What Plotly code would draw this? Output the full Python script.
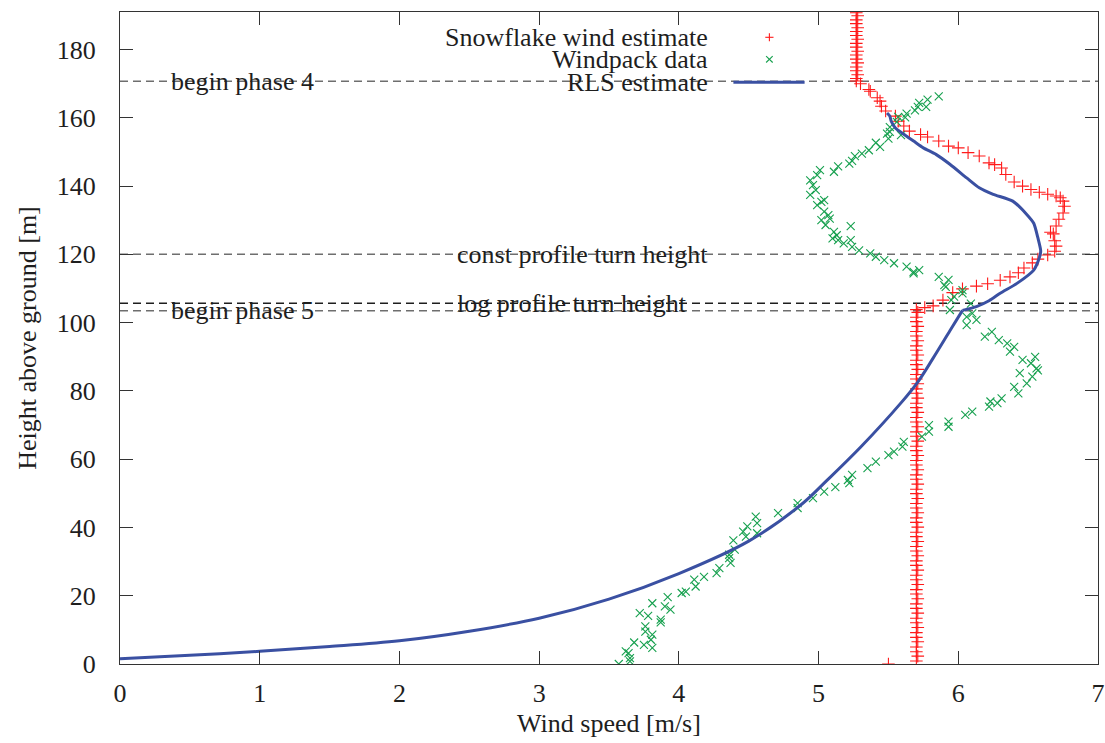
import plotly.graph_objects as go

# ---------------- data ----------------
# Snowflake wind estimate (red +)
snow_x = [5.50,
          5.70, 5.71, 5.70, 5.70, 5.71, 5.70, 5.70, 5.71, 5.70, 5.70, 5.71, 5.70, 5.70, 5.71, 5.70,
          5.70, 5.71, 5.70, 5.70, 5.71, 5.70, 5.70, 5.71, 5.70, 5.70, 5.71, 5.70, 5.70, 5.71, 5.70,
          5.70, 5.71, 5.70, 5.70, 5.71, 5.70, 5.70, 5.71, 5.70, 5.70, 5.71, 5.70, 5.70, 5.71, 5.70,
          5.70, 5.71, 5.70, 5.70, 5.71, 5.70, 5.70, 5.71, 5.70, 5.70, 5.71, 5.70, 5.70, 5.71, 5.70,
          5.70, 5.71, 5.70, 5.70, 5.71, 5.70, 5.70, 5.71, 5.70, 5.70, 5.71, 5.70, 5.70, 5.71, 5.70,
          5.76, 5.82, 5.89, 5.96, 6.03, 6.13, 6.21, 6.30, 6.37, 6.43, 6.47, 6.53, 6.57, 6.64, 6.69,
          6.70, 6.69, 6.68, 6.66, 6.70, 6.72, 6.75, 6.76, 6.75, 6.73, 6.70, 6.64, 6.58, 6.52, 6.46,
          6.40, 6.34, 6.31, 6.26, 6.22, 6.15, 6.07, 6.00, 5.93, 5.86, 5.78, 5.73, 5.65, 5.61, 5.57,
          5.55, 5.48, 5.45, 5.44, 5.42, 5.37, 5.36, 5.30, 5.27,
          5.27, 5.28, 5.27, 5.27, 5.28, 5.27, 5.27, 5.28, 5.27, 5.27, 5.28, 5.27, 5.27, 5.28, 5.27,
          5.27, 5.28, 5.27]
snow_y = [0.0,
          0.9, 2.3, 3.6, 5.0, 6.5, 7.8, 9.2, 10.7, 12.1, 13.4, 14.9, 16.3, 17.6, 19.1, 20.5,
          21.8, 23.3, 24.7, 26.0, 27.5, 28.9, 30.2, 31.7, 33.1, 34.4, 35.9, 37.3, 38.6, 40.1, 41.5,
          42.8, 44.3, 45.7, 47.0, 48.5, 49.9, 51.2, 52.7, 54.1, 55.4, 56.9, 58.3, 59.6, 61.1, 62.5,
          63.8, 65.3, 66.7, 68.0, 69.5, 70.9, 72.2, 73.7, 75.1, 76.4, 77.9, 79.3, 80.6, 82.1, 83.5,
          84.8, 86.3, 87.7, 89.0, 90.5, 91.9, 93.2, 94.7, 96.1, 97.4, 98.9, 100.3, 101.6, 103.0, 103.8,
          104.4, 104.9, 106.6, 108.8, 109.9, 110.7, 111.4, 112.4, 113.4, 114.6, 116.0, 117.5, 118.6, 119.8, 120.9,
          122.4, 124.0, 126.0, 126.5, 128.3, 130.3, 132.1, 134.1, 135.6, 136.6, 137.1, 137.6, 138.2, 139.0, 140.0,
          141.2, 143.4, 145.3, 146.3, 146.8, 148.8, 149.8, 151.2, 151.7, 153.2, 154.4, 155.1, 156.1, 157.6, 159.0,
          160.5, 162.0, 163.4, 164.9, 165.9, 167.8, 168.3, 170.0, 170.8,
          171.5, 172.6, 173.8, 174.9, 176.1, 177.2, 178.4, 179.5, 180.7, 181.8, 183.0, 184.1, 185.3, 186.4, 187.6,
          188.7, 189.9, 190.8]

# Windpack data (green x)
wind_x = [3.57, 3.65, 3.65, 3.64, 3.62, 3.81, 3.75, 3.68, 3.80, 3.81, 3.76, 3.76, 3.87, 3.87, 3.78,
          3.72, 3.94, 3.90, 3.81, 3.92, 4.02, 4.05, 4.12, 4.11, 4.18, 4.27, 4.29, 4.37, 4.36, 4.36,
          4.40, 4.39, 4.48, 4.56, 4.46, 4.49, 4.56, 4.55, 4.71, 4.85, 4.85, 4.96, 5.04, 5.12, 5.22,
          5.21, 5.24, 5.35, 5.41, 5.50, 5.54, 5.60, 5.61, 5.74, 5.79, 5.79, 5.93, 5.93, 6.05, 6.10,
          6.22, 6.28, 6.23, 6.31, 6.43, 6.40, 6.49, 6.53, 6.44, 6.56, 6.57, 6.52, 6.46, 6.55, 6.37,
          6.40, 6.35, 6.29, 6.19, 6.24, 6.06, 6.13, 6.06, 6.10, 5.94, 6.09, 5.95, 5.97, 6.03, 6.03,
          5.91, 5.90, 5.93, 5.86, 5.68, 5.72, 5.68, 5.63, 5.54, 5.47, 5.41, 5.37, 5.29, 5.24, 5.18,
          5.14, 5.23, 5.10, 5.13, 5.11, 5.23, 5.05, 5.02, 5.08, 5.07, 5.04, 4.99, 5.02, 5.04, 4.94,
          4.98, 4.96, 4.94, 4.99, 5.01, 5.11, 5.14, 5.22, 5.24, 5.26, 5.31, 5.36, 5.44, 5.41, 5.50,
          5.59, 5.49, 5.51, 5.51, 5.56, 5.57, 5.62, 5.63, 5.69, 5.71, 5.77, 5.72, 5.78, 5.86]
wind_y = [0.0, 0.8, 1.75, 3.2, 3.7, 4.7, 5.6, 6.3, 7.1, 8.6, 9.5, 11.0, 12.2, 13.0, 14.1,
          14.9, 15.9, 16.9, 17.8, 19.6, 20.8, 21.2, 22.7, 24.7, 25.5, 26.6, 28.1, 29.6, 31.0, 32.0,
          33.5, 36.2, 37.3, 38.3, 38.8, 40.3, 41.3, 43.2, 44.2, 45.7, 47.1, 48.6, 50.5, 51.8, 53.0,
          53.9, 55.4, 57.4, 59.3, 61.2, 62.2, 63.7, 65.1, 66.6, 68.1, 70.0, 69.5, 71.0, 73.0, 73.9,
          75.4, 76.4, 76.9, 77.8, 79.3, 81.2, 82.2, 84.2, 85.2, 86.6, 86.0, 88.1, 89.1, 90.0, 91.5,
          92.9, 93.9, 94.9, 95.9, 97.3, 99.3, 100.8, 101.7, 102.7, 103.7, 105.6, 106.6, 107.6, 108.6, 109.5,
          110.5, 111.0, 112.5, 113.4, 114.4, 115.4, 114.9, 116.4, 117.4, 118.3, 119.3, 120.3, 121.2, 122.2, 123.2,
          124.2, 124.2, 124.7, 125.6, 126.6, 128.3, 128.6, 130.0, 130.5, 131.5, 132.5, 134.4, 135.4, 135.9, 137.4,
          138.8, 140.3, 141.7, 143.2, 144.7, 144.2, 145.8, 146.6, 147.4, 148.8, 149.5, 150.5, 151.5, 152.7, 153.9,
          154.9, 155.4, 155.9, 157.3, 158.8, 160.3, 160.1, 161.2, 162.2, 163.2, 163.2, 164.4, 165.3, 166.3]

# RLS estimate (blue line): log-profile part up to the turn height, then the upper part
rls_x = [0.00, 0.50, 1.00, 1.50, 2.00, 2.50, 3.00, 3.50, 4.00, 4.50, 4.87, 5.06, 5.30, 5.59,
         5.71, 5.82, 5.94, 6.03,
         6.13, 6.22, 6.30, 6.42, 6.54, 6.58, 6.59, 6.57, 6.54, 6.49, 6.39,
         6.25, 6.15, 6.06, 5.94, 5.84, 5.75, 5.68, 5.61, 5.55, 5.52, 5.51, 5.49]
rls_y = [1.55, 2.55, 3.70, 5.10, 6.80, 9.60, 13.4, 19.0, 26.5, 36.0, 46.5, 53.8, 63.5, 76.5,
         82.6, 89.6, 97.6, 103.6,
         104.7, 106.4, 108.6, 111.5, 115.4, 119.0, 121.0, 124.8, 129.1, 131.7, 135.6,
         137.6, 139.5, 142.4, 146.4, 149.3, 151.2, 153.2, 155.2, 157.0, 159.0, 160.5, 161.4]
rls_kink = 17  # index of the log-profile turn point

# reference heights
ref_labels = ["begin phase 4", "const profile turn height", "log profile turn height", "begin phase 5"]
ref_heights = [170.7, 120.0, 105.7, 103.5]
ref_label_x = [0.35, 2.4, 2.4, 0.35]
ref_colors = ["#6e6e6e", "#6e6e6e", "#1e1e1e", "#6e6e6e"]

x_ticks = [0, 1, 2, 3, 4, 5, 6, 7]
y_ticks = [0, 20, 40, 60, 80, 100, 120, 140, 160, 180]

FONT = "Liberation Serif"
TXT = "#1e1e1e"
FS = 26
BLUE = "#3a50a2"
RED = "#ff1a1a"
GREEN = "#16a04e"

fig = go.Figure()

# reference dashed lines + labels
for lab, h, lx, col in zip(ref_labels, ref_heights, ref_label_x, ref_colors):
    fig.add_shape(type="line", xref="paper", x0=0, x1=1, yref="y", y0=h, y1=h,
                  line=dict(color=col, width=1.5, dash="8px,5px"), layer="below")
    fig.add_annotation(x=lx, y=h, xref="x", yref="y", text=lab, showarrow=False,
                       xanchor="left", yanchor="middle",
                       font=dict(family=FONT, size=FS, color=TXT))

fig.add_trace(go.Scatter(x=snow_x, y=snow_y, mode="markers", showlegend=False,
                         marker=dict(symbol="cross-thin", size=9, color=RED,
                                     line=dict(color=RED, width=1.1))))
fig.add_trace(go.Scatter(x=wind_x, y=wind_y, mode="markers", showlegend=False,
                         marker=dict(symbol="x-thin", size=8, color=GREEN,
                                     line=dict(color=GREEN, width=1.1))))
fig.add_trace(go.Scatter(x=rls_x[:rls_kink + 1], y=rls_y[:rls_kink + 1], mode="lines", showlegend=False,
                         line=dict(color=BLUE, width=3, shape="spline", smoothing=1.0)))
fig.add_trace(go.Scatter(x=rls_x[rls_kink:], y=rls_y[rls_kink:], mode="lines", showlegend=False,
                         line=dict(color=BLUE, width=3, shape="spline", smoothing=0.6)))

# custom gnuplot-style key (text left, sample right)
key_text = ["Snowflake wind estimate", "Windpack data", "RLS estimate"]
key_y = [0.9612, 0.9275, 0.8924]
for t, ky in zip(key_text, key_y):
    fig.add_annotation(x=0.6036, y=ky, xref="paper", yref="paper", text=t, showarrow=False,
                       xanchor="right", yanchor="middle",
                       font=dict(family=FONT, size=FS, color=TXT))
kx = 0.664
d = 0.0042
dy = 0.0062
# red +
fig.add_shape(type="line", xref="paper", yref="paper", x0=kx - d, x1=kx + d, y0=key_y[0], y1=key_y[0],
              line=dict(color=RED, width=1.1))
fig.add_shape(type="line", xref="paper", yref="paper", x0=kx, x1=kx, y0=key_y[0] - dy, y1=key_y[0] + dy,
              line=dict(color=RED, width=1.1))
# green x
fig.add_shape(type="line", xref="paper", yref="paper", x0=kx - d * 0.8, x1=kx + d * 0.8,
              y0=key_y[1] - dy * 0.8, y1=key_y[1] + dy * 0.8, line=dict(color=GREEN, width=1.1))
fig.add_shape(type="line", xref="paper", yref="paper", x0=kx - d * 0.8, x1=kx + d * 0.8,
              y0=key_y[1] + dy * 0.8, y1=key_y[1] - dy * 0.8, line=dict(color=GREEN, width=1.1))
# blue line
fig.add_shape(type="line", xref="paper", yref="paper", x0=0.6272, x1=0.700, y0=key_y[2], y1=key_y[2],
              line=dict(color=BLUE, width=3))

axis_common = dict(showgrid=False, zeroline=False, showline=True, linecolor="#333333", linewidth=1.3,
                   mirror="ticks", ticks="inside", ticklen=13, tickwidth=1.3, tickcolor="#333333",
                   automargin=False,
                   tickfont=dict(family=FONT, size=FS, color=TXT))

fig.update_layout(
    width=1105, height=743,
    margin=dict(l=120, r=7, t=12, b=79),
    paper_bgcolor="white", plot_bgcolor="white",
    font=dict(family=FONT, size=FS, color=TXT),
    showlegend=False,
    xaxis=dict(range=[0, 7], tickvals=x_ticks, ticklabelstandoff=6,
               title=dict(text="Wind speed [m/s]", font=dict(family=FONT, size=FS, color=TXT), standoff=6),
               **axis_common),
    yaxis=dict(range=[0, 191], tickvals=y_ticks, ticklabelstandoff=18,
               title=dict(text="Height above ground [m]", font=dict(family=FONT, size=FS, color=TXT), standoff=12),
               **axis_common),
)

fig.write_html("out.html")
